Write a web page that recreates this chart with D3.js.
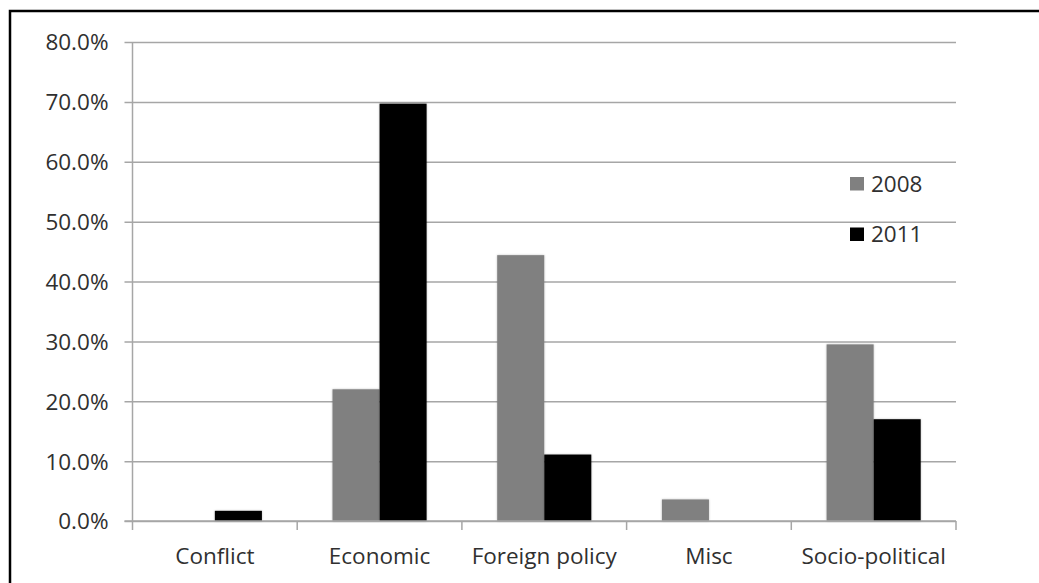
<!DOCTYPE html>
<html>
<head>
<meta charset="utf-8">
<script src="https://cdn.jsdelivr.net/npm/d3@7/dist/d3.min.js"></script>
<style>
  html, body { margin: 0; padding: 0; background: #fff; }
  svg { display: block; }
  text { font-family: "Open Sans", "Liberation Sans", sans-serif; fill: #303030; }
</style>
</head>
<body>
<svg id="chart" width="1039" height="583"></svg>
<script>
// Share of coverage by topic, 2008 vs 2011
const categories = ["Conflict", "Economic", "Foreign policy", "Misc", "Socio-political"];
const seriesNames = ["2008", "2011"];
const values2008 = [0.0, 22.0, 44.4, 3.6, 29.5];
const values2011 = [1.7, 69.7, 11.1, 0.0, 17.0];
const yTicks = [0, 10, 20, 30, 40, 50, 60, 70, 80];
const colors = ["#808080", "#000000"];

const svg = d3.select("#chart");

// frame around the chart (right and bottom edges fall outside the canvas)
svg.append("rect")
  .attr("x", 10).attr("y", 11)
  .attr("width", 1060).attr("height", 600)
  .attr("fill", "none").attr("stroke", "#000").attr("stroke-width", 2.5);

const plot = { left: 132.5, right: 956, top: 42, bottom: 521 };

const x = d3.scaleBand().domain(categories).range([plot.left, plot.right]).padding(0);
const xInner = d3.scaleBand().domain(seriesNames).range([0, x.bandwidth()])
  .paddingInner(0).paddingOuter(0.75);
const y = d3.scaleLinear().domain([0, 80]).range([plot.bottom, plot.top]);

const defs = svg.append("defs");
const shadow = defs.append("filter").attr("id", "barShadow")
  .attr("x", "-20%").attr("y", "-20%").attr("width", "140%").attr("height", "140%");
shadow.append("feGaussianBlur").attr("in", "SourceAlpha").attr("stdDeviation", 1.2).attr("result", "b");
shadow.append("feComponentTransfer").attr("in", "b").attr("result", "s")
  .append("feFuncA").attr("type", "linear").attr("slope", 0.25);
const merge = shadow.append("feMerge");
merge.append("feMergeNode").attr("in", "s");
merge.append("feMergeNode").attr("in", "SourceGraphic");

// horizontal gridlines with left tick marks
const yAxis = d3.axisLeft(y).tickValues(yTicks)
  .tickSize(-(plot.right - plot.left))
  .tickFormat(d => d.toFixed(1) + "%");
const gy = svg.append("g").attr("transform", `translate(${plot.left},0)`).call(yAxis);
gy.select(".domain").remove();
gy.selectAll(".tick line")
  .attr("x1", -8)
  .attr("stroke", "#a6a6a6").attr("stroke-width", 1.5);
gy.selectAll(".tick text")
  .attr("x", -24).attr("dy", "0.35em")
  .style("font-size", "22.5px").attr("fill", "#303030");

// vertical axis line
svg.append("line")
  .attr("x1", plot.left).attr("x2", plot.left)
  .attr("y1", plot.top).attr("y2", plot.bottom)
  .attr("stroke", "#a6a6a6").attr("stroke-width", 1.5);

// bars
const rows = categories.map((c, i) => ({ cat: c, vals: [values2008[i], values2011[i]] }));
const groups = svg.append("g").selectAll("g").data(rows).join("g")
  .attr("transform", d => `translate(${x(d.cat)},0)`);
groups.selectAll("rect")
  .data(d => d.vals.map((v, j) => ({ key: seriesNames[j], v, j })).filter(e => e.v > 0))
  .join("rect")
  .attr("x", d => xInner(d.key))
  .attr("width", xInner.bandwidth())
  .attr("y", d => y(d.v))
  .attr("height", d => y(0) - y(d.v))
  .attr("fill", d => colors[d.j])
  .attr("filter", "url(#barShadow)");

// category axis with ticks at category boundaries
const xAxisG = svg.append("g");
xAxisG.append("line")
  .attr("x1", plot.left - 8).attr("x2", plot.right)
  .attr("y1", plot.bottom).attr("y2", plot.bottom)
  .attr("stroke", "#a6a6a6").attr("stroke-width", 1.5);
const bounds = categories.map(c => x(c)).concat([x(categories[categories.length - 1]) + x.bandwidth()]);
xAxisG.selectAll("line.tk").data(bounds).join("line").attr("class", "tk")
  .attr("x1", d => d).attr("x2", d => d)
  .attr("y1", plot.bottom).attr("y2", plot.bottom + 9)
  .attr("stroke", "#a6a6a6").attr("stroke-width", 1.5);
xAxisG.selectAll("text").data(categories).join("text")
  .attr("x", d => x(d) + x.bandwidth() / 2)
  .attr("y", 564)
  .attr("text-anchor", "middle")
  .style("font-size", "22.5px")
  .text(d => d);

// legend
const legend = svg.append("g");
seriesNames.forEach((s, i) => {
  const yy = 177 + i * 50.5;
  legend.append("rect")
    .attr("x", 850).attr("y", yy).attr("width", 14).attr("height", 13.5)
    .attr("fill", colors[i]);
  legend.append("text")
    .attr("x", 871).attr("y", yy + 14.5)
    .style("font-size", "22.5px")
    .text(s);
});
</script>
</body>
</html>
